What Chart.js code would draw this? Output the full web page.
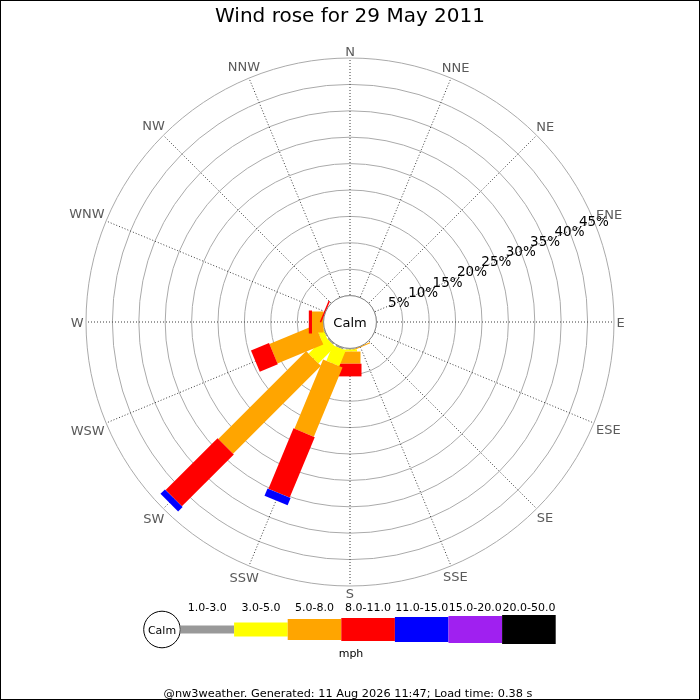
<!DOCTYPE html>
<html>
<head>
<meta charset="utf-8">
<title>Wind rose for 29 May 2011</title>
<script src="https://cdn.jsdelivr.net/npm/chart.js@4.4.1/dist/chart.umd.min.js"></script>
<style>
  html, body { margin: 0; padding: 0; background: #fff; }
  canvas { display: block; }
</style>
</head>
<body>
<canvas id="rose" width="700" height="700"></canvas>
<script>
// Directions, clockwise from north
const directions = ["N", "NNE", "NE", "ENE", "E", "ESE", "SE", "SSE",
  "S", "SSW", "SW", "WSW", "W", "WNW", "NW", "NNW"];

// Speed classes (mph)
const speedBands = ["1.0-3.0", "3.0-5.0", "5.0-8.0", "8.0-11.0", "11.0-15.0", "15.0-20.0", "20.0-50.0"];

// Percent of the day in each class, per direction (N ... NNW)
const mph1to3   = [0, 0, 0, 0, 0, 0, 0, 0,   0.2, 0.3, 0.3, 0.2, 0, 0, 0, 0];
const mph3to5   = [0, 0, 0, 0, 0, 0, 0, 0,   0.4, 3.2, 4.5, 1.1, 0, 0, 0, 0];
const mph5to8   = [0, 0, 0, 0, 0, 0, 0, 0.2, 2.3, 14.2, 23.5, 9.4, 2.2, 0, 0, 0];
const mph8to11  = [0, 0, 0, 0, 0, 0, 0, 0,   2.4, 12.4, 13.9, 3.7, 0.6, 0.3, 0, 0];
const mph11to15 = [0, 0, 0, 0, 0, 0, 0, 0,   0, 1.5, 1.2, 0, 0, 0, 0, 0];
const mph15to20 = [0, 0, 0, 0, 0, 0, 0, 0,   0, 0, 0, 0, 0, 0, 0, 0];
const mph20to50 = [0, 0, 0, 0, 0, 0, 0, 0,   0, 0, 0, 0, 0, 0, 0, 0];

// Radial tick labels
const percentTicks = [5, 10, 15, 20, 25, 30, 35, 40, 45];

// styling
const bandColors = ["#999999", "#ffff00", "#ffa500", "#ff0000", "#0000ff", "#a020f0", "#000000"];
const bandWidths = [8, 14, 21, 23, 25, 27, 29];
const FONT = "DejaVu Sans";

const bandValues = [mph1to3, mph3to5, mph5to8, mph8to11, mph11to15, mph15to20, mph20to50];

Chart.defaults.font.family = FONT;

// stacked bars, labels, calm circle, legend
const windRose = {
  id: "windRose",
  afterDatasetsDraw(chart) {
    const ctx = chart.ctx;
    const scale = chart.scales.r;
    const outer = scale.getDistanceFromCenterForValue(scale.max);

    // bars
    directions.forEach((dir, i) => {
      let base = 0;
      chart.data.datasets.forEach((ds, b) => {
        const v = ds.data[i];
        if (!v) return;
        const r0 = scale.getDistanceFromCenterForValue(base);
        const r1 = scale.getDistanceFromCenterForValue(base + v);
        base += v;
        ctx.save();
        ctx.translate(scale.xCenter, scale.yCenter);
        ctx.rotate(scale.getIndexAngle(i) - Math.PI / 2);
        ctx.fillStyle = ds.backgroundColor;
        ctx.fillRect(r0, -bandWidths[b] / 2, r1 - r0, bandWidths[b]);
        ctx.restore();
      });
    });

    // calm circle
    const calmR = scale.getDistanceFromCenterForValue(0);
    ctx.save();
    ctx.beginPath();
    ctx.arc(scale.xCenter, scale.yCenter, calmR, 0, Math.PI * 2);
    ctx.fillStyle = "#fff";
    ctx.fill();
    ctx.strokeStyle = "#888";
    ctx.lineWidth = 1;
    ctx.stroke();
    ctx.fillStyle = "#000";
    ctx.font = "13px '" + FONT + "'";
    ctx.textAlign = "center";
    ctx.textBaseline = "alphabetic";
    ctx.fillText("Calm", scale.xCenter, scale.yCenter + 5);

    // percent labels along ENE
    ctx.font = "13.5px '" + FONT + "'";
    percentTicks.forEach((t) => {
      const p = scale.getPointPositionForValue(3, t);
      ctx.fillText(t + "%", p.x, p.y + 5);
    });

    // direction labels
    ctx.font = "13px '" + FONT + "'";
    ctx.fillStyle = "#5a5a5a";
    directions.forEach((dir, i) => {
      const a = scale.getIndexAngle(i);
      const w = ctx.measureText(dir).width;
      const d = outer + 2.5 + Math.abs(Math.sin(a)) * w / 2 + Math.abs(Math.cos(a)) * 4.75;
      const p = scale.getPointPosition(i, d);
      ctx.fillText(dir, p.x, p.y + 4.75);
    });
    ctx.restore();
  },
  afterDraw(chart) {
    const ctx = chart.ctx;
    ctx.save();

    // legend
    const cy = 629.5;
    ctx.beginPath();
    ctx.arc(162, cy, 18.3, 0, Math.PI * 2);
    ctx.fillStyle = "#fff";
    ctx.fill();
    ctx.strokeStyle = "#000";
    ctx.lineWidth = 1;
    ctx.stroke();
    ctx.fillStyle = "#000";
    ctx.font = "11px '" + FONT + "'";
    ctx.textAlign = "center";
    ctx.textBaseline = "alphabetic";
    ctx.fillText("Calm", 162, cy + 4);

    const segW = 53.6;
    let x = 180.5;
    speedBands.forEach((label, b) => {
      const h = bandWidths[b];
      ctx.fillStyle = bandColors[b];
      ctx.fillRect(x, cy - h / 2, segW, h);
      ctx.fillStyle = "#000";
      ctx.fillText(label, x + segW / 2, 611);
      x += segW;
    });
    ctx.fillText("mph", 351, 657);

    // footer
    ctx.font = "11.3px '" + FONT + "'";
    ctx.fillText("@nw3weather. Generated: 11 Aug 2026 11:47; Load time: 0.38 s", 348, 697);

    // frame
    ctx.strokeStyle = "#000";
    ctx.strokeRect(0.5, 0.5, 699, 699);
    ctx.restore();
  }
};

const chart = new Chart(document.getElementById("rose"), {
  type: "radar",
  data: {
    labels: directions,
    datasets: bandValues.map((vals, b) => ({
      label: speedBands[b],
      data: vals,
      backgroundColor: bandColors[b],
      borderWidth: 0,
      pointRadius: 0,
      pointHoverRadius: 0,
      fill: false,
    })),
  },
  options: {
    responsive: false,
    animation: false,
    events: [],
    layout: { padding: 0 },
    plugins: {
      legend: { display: false },
      tooltip: { enabled: false },
      title: {
        display: true,
        text: "Wind rose for 29 May 2011",
        color: "#000",
        font: { family: FONT, size: 20, weight: "normal" },
        padding: { top: 5, bottom: 0 },
      },
    },
    scales: {
      r: {
        min: -5,
        max: 45,
        startAngle: 0,
        ticks: { display: false, stepSize: 5 },
        pointLabels: { display: false },
        grid: { circular: true, color: "#aaaaaa", lineWidth: 1 },
        angleLines: { color: "#3a3a3a", lineWidth: 1, borderDash: [1, 2] },
        afterFit(scale) {
          // pin the rose like the original image
          scale.xCenter = 350;
          scale.yCenter = 322;
          scale.drawingArea = 264;
        },
      },
    },
  },
  plugins: [windRose],
});
</script>
</body>
</html>
